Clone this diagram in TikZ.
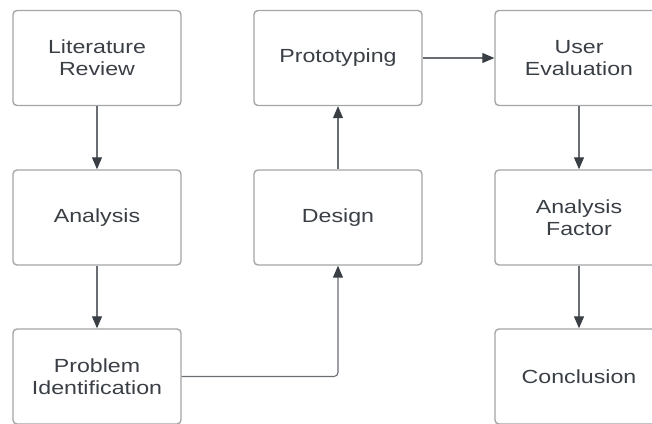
\documentclass[tikz,border=0pt]{standalone}
\usepackage{fontspec}
\usetikzlibrary{arrows.meta}
\newfontfamily\boxfont[FakeStretch=1.22]{Liberation Sans}
\definecolor{boxline}{HTML}{A3A5A8}
\definecolor{txt}{HTML}{3A3F46}
\definecolor{arrline}{HTML}{6A6D72}
\definecolor{arrhead}{HTML}{3A3E45}
\begin{document}
\begin{tikzpicture}[x=1pt,y=-1pt,
  flowbox/.style={draw=boxline,line width=1.4pt,rounded corners=4pt,
    minimum width=168pt,minimum height=95pt,inner sep=0pt,align=center,
    text=txt,font=\boxfont\fontsize{19}{22}\selectfont},
  conn/.style={draw=arrline,line width=1.1pt,
    -{Triangle[length=12pt,width=10pt,color=arrhead]}}]
\useasboundingbox (0,0) rectangle (652,423);
\node[flowbox] (lit) at (97,58) {Literature\\Review};
\node[flowbox] (ana) at (97,217.5) {Analysis};
\node[flowbox] (pid) at (97,376.5) {Problem\\Identification};
\node[flowbox] (pro) at (338,58) {Prototyping};
\node[flowbox] (des) at (338,217.5) {Design};
\node[flowbox] (usr) at (579,58) {User\\Evaluation};
\node[flowbox] (anf) at (579,217.5) {Analysis\\Factor};
\node[flowbox] (con) at (579,376.5) {Conclusion};
\draw[conn] (lit) -- (ana);
\draw[conn] (ana) -- (pid);
\draw[conn,rounded corners=4pt] (pid.east) -| (des.south);
\draw[conn] (des) -- (pro);
\draw[conn] (pro) -- (usr);
\draw[conn] (usr) -- (anf);
\draw[conn] (anf) -- (con);
\end{tikzpicture}
\end{document}
